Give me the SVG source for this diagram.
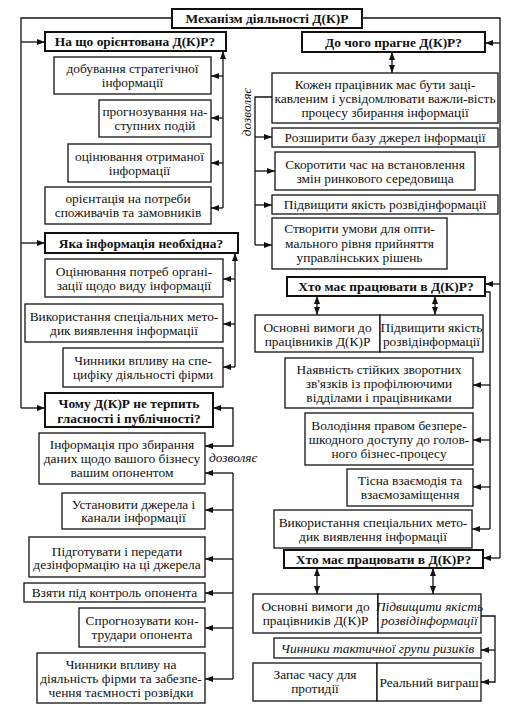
<svg xmlns="http://www.w3.org/2000/svg" width="517" height="712" viewBox="0 0 517 712">
<style>
.bx{fill:#fff;stroke:#111;stroke-width:1.3}
.hb{fill:#fff;stroke:#111;stroke-width:2}
.t{font-family:"Liberation Serif","Times New Roman",serif;font-size:13.4px;text-anchor:middle;fill:#111}
.b{font-weight:bold}
.i{font-style:italic}
.ln{fill:none;stroke:#111;stroke-width:1.3}
.ar{marker-end:url(#a)}
.da{marker-start:url(#a);marker-end:url(#a)}
</style>
<defs>
<marker id="a" viewBox="0 0 8 6" refX="8" refY="3" markerWidth="8" markerHeight="6" markerUnits="userSpaceOnUse" orient="auto-start-reverse"><path d="M0,0 L8,3 L0,6 z" fill="#111"/></marker>
</defs>
<rect width="517" height="712" fill="#fff"/>

<g id="connectors">
<path class="ln" d="M172,18 H21 V408"/>
<path class="ln ar" d="M21,42 H45"/>
<path class="ln ar" d="M21,243 H45"/>
<path class="ln ar" d="M21,408 H45"/>
<path class="ln" d="M362,18 H500 V558"/>
<path class="ln ar" d="M500,43 H485"/>
<path class="ln ar" d="M500,284 H485"/>
<path class="ln ar" d="M500,558 H483"/>
<path class="ln ar" d="M223,208 V51"/>
<path class="ln ar" d="M223,76 H211"/>
<path class="ln ar" d="M223,118 H211"/>
<path class="ln ar" d="M223,163 H211"/>
<path class="ln ar" d="M223,208 H211"/>
<path class="ln ar" d="M235,367 V253"/>
<path class="ln ar" d="M235,279 H223"/>
<path class="ln ar" d="M235,324 H223"/>
<path class="ln ar" d="M235,367 H223"/>
<path class="ln da" d="M213,408 H233 V446 H205"/>
<path class="ln" d="M233,473 V679"/>
<path class="ln ar" d="M233,473 H205"/>
<path class="ln ar" d="M233,510 H205"/>
<path class="ln ar" d="M233,559 H205"/>
<path class="ln ar" d="M233,593 H205"/>
<path class="ln ar" d="M233,628 H205"/>
<path class="ln ar" d="M233,679 H205"/>
<path class="ln da" d="M392,52 V73"/>
<path class="ln" d="M272,97 H255 V245"/>
<path class="ln ar" d="M255,137 H272"/>
<path class="ln ar" d="M255,171 H275"/>
<path class="ln ar" d="M255,205 H272"/>
<path class="ln ar" d="M255,245 H272"/>
<path class="ln" d="M485,292 H490 V529"/>
<path class="ln ar" d="M490,385 H473"/>
<path class="ln ar" d="M490,440 H473"/>
<path class="ln ar" d="M490,487 H473"/>
<path class="ln ar" d="M490,529 H472"/>
<path class="ln da" d="M317,296 V315"/>
<path class="ln da" d="M435,296 V315"/>
<path class="ln da" d="M317,568 V594"/>
<path class="ln da" d="M433,568 V594"/>
<path class="ln ar" d="M481,616 H495 V682 H481"/>
<path class="ln ar" d="M495,650 H481"/>
<text class="t i" x="209" y="462" style="text-anchor:start">дозволяє</text>
<text class="t i" transform="translate(251,112) rotate(-90)">дозволяє</text>
</g>

<g id="title"><rect class="hb" x="172" y="9" width="190" height="19"/><text class="t b" x="267" y="23">Механізм діяльності Д(К)Р</text></g>

<g id="q1"><rect class="hb" x="45" y="32" width="181" height="19"/><text class="t b" x="135" y="46">На що орієнтована Д(К)Р?</text></g>
<g id="q1a"><rect class="bx" x="54" y="57" width="157" height="37"/><text class="t" x="132.5"><tspan x="132.5" y="73">добування стратегічної</tspan><tspan x="132.5" y="87">інформації</tspan></text></g>
<g id="q1b"><rect class="bx" x="99" y="100" width="112" height="37"/><text class="t"><tspan x="155" y="116">прогнозування на-</tspan><tspan x="155" y="130">ступних подій</tspan></text></g>
<g id="q1c"><rect class="bx" x="68" y="144" width="143" height="38"/><text class="t"><tspan x="139.5" y="160.5">оцінювання отриманої</tspan><tspan x="139.5" y="174.5">інформації</tspan></text></g>
<g id="q1d"><rect class="bx" x="45" y="187" width="166" height="37"/><text class="t"><tspan x="128" y="203">орієнтація на потреби</tspan><tspan x="128" y="217">споживачів та замовників</tspan></text></g>

<g id="q2"><rect class="hb" x="45" y="233" width="193" height="20"/><text class="t b" x="141" y="247.5">Яка інформація необхідна?</text></g>
<g id="q2a"><rect class="bx" x="45" y="259" width="178" height="38"/><text class="t"><tspan x="134" y="275.5">Оцінювання потреб органі-</tspan><tspan x="134" y="289.5">зації щодо виду інформації</tspan></text></g>
<g id="q2b"><rect class="bx" x="25" y="304" width="198" height="38"/><text class="t"><tspan x="124" y="320.5">Використання спеціальних мето-</tspan><tspan x="124" y="334.5">дик виявлення інформації</tspan></text></g>
<g id="q2c"><rect class="bx" x="63" y="348" width="160" height="39"/><text class="t"><tspan x="143" y="365">Чинники впливу на спе-</tspan><tspan x="143" y="379">цифіку діяльності фірми</tspan></text></g>

<g id="q3"><rect class="hb" x="45" y="393" width="168" height="34"/><text class="t b"><tspan x="129" y="407.5">Чому  Д(К)Р не терпить</tspan><tspan x="129" y="423">гласності і публічності?</tspan></text></g>
<g id="q3a"><rect class="bx" x="39" y="433" width="166" height="51"/><text class="t"><tspan x="122" y="449">Інформація про збирання</tspan><tspan x="122" y="463">даних щодо вашого бізнесу</tspan><tspan x="122" y="477">вашим опонентом</tspan></text></g>
<g id="q3b"><rect class="bx" x="62" y="493" width="143" height="36"/><text class="t"><tspan x="133.5" y="508.5">Установити джерела і</tspan><tspan x="133.5" y="522">канали інформації</tspan></text></g>
<g id="q3c"><rect class="bx" x="29" y="537" width="176" height="40"/><text class="t"><tspan x="117" y="555.5">Підготувати і передати</tspan><tspan x="117" y="569">дезінформацію на ці джерела</tspan></text></g>
<g id="q3d"><rect class="bx" x="24" y="583" width="181" height="19"/><text class="t" x="114.5" y="597">Взяти під контроль опонента</text></g>
<g id="q3e"><rect class="bx" x="79" y="608" width="126" height="39"/><text class="t"><tspan x="142" y="625">Спрогнозувати кон-</tspan><tspan x="142" y="638.5">трудари опонента</tspan></text></g>
<g id="q3f"><rect class="bx" x="37" y="653" width="168" height="50"/><text class="t"><tspan x="121" y="668.5">Чинники впливу на</tspan><tspan x="121" y="682.5">діяльність фірми та забезпе-</tspan><tspan x="121" y="696.5">чення таємності розвідки</tspan></text></g>

<g id="r1"><rect class="hb" x="302" y="32" width="183" height="20"/><text class="t b" x="393.5" y="46.5">До чого прагне Д(К)Р?</text></g>
<g id="r1a"><rect class="bx" x="272" y="73" width="226" height="50"/><text class="t"><tspan x="385" y="88.5">Кожен працівник має бути заці-</tspan><tspan x="385" y="102.5" textLength="221" lengthAdjust="spacingAndGlyphs">кавленим і усвідомлювати важли-вість</tspan><tspan x="385" y="116.5">процесу збирання інформації</tspan></text></g>
<g id="r1b"><rect class="bx" x="272" y="128" width="226" height="19"/><text class="t" x="385" y="142">Розширити базу джерел інформації</text></g>
<g id="r1c"><rect class="bx" x="275" y="152" width="200" height="38"/><text class="t"><tspan x="375" y="168.5">Скоротити час на встановлення</tspan><tspan x="375" y="182.5">змін ринкового середовища</tspan></text></g>
<g id="r1d"><rect class="bx" x="272" y="195" width="226" height="19"/><text class="t" x="385" y="209">Підвищити якість розвідінформації</text></g>
<g id="r1e"><rect class="bx" x="272" y="218" width="175" height="51"/><text class="t"><tspan x="359.5" y="233">Створити умови для опти-</tspan><tspan x="359.5" y="247.5">мального рівня прийняття</tspan><tspan x="359.5" y="262">управлінських рішень</tspan></text></g>

<g id="r2"><rect class="hb" x="287" y="277" width="198" height="19"/><text class="t b" x="386" y="291">Хто має працювати в Д(К)Р?</text></g>
<g id="r2a"><rect class="bx" x="255" y="315" width="125" height="37"/><text class="t"><tspan x="317.5" y="331.5">Основні вимоги до</tspan><tspan x="317.5" y="345.5">працівників Д(К)Р</tspan></text></g>
<g id="r2b"><rect class="bx" x="380" y="315" width="103" height="37"/><text class="t"><tspan x="431.5" y="331.5">Підвищити якість</tspan><tspan x="431.5" y="345.5">розвідінформації</tspan></text></g>
<g id="r2c"><rect class="bx" x="285" y="358" width="188" height="50"/><text class="t"><tspan x="379" y="374">Наявність стійких зворотних</tspan><tspan x="379" y="388">зв'язків із профілюючими</tspan><tspan x="379" y="402">відділами і працівниками</tspan></text></g>
<g id="r2d"><rect class="bx" x="305" y="413" width="168" height="52"/><text class="t"><tspan x="389" y="429.5">Володіння правом безпере-</tspan><tspan x="389" y="443.5">шкодного доступу до  голов-</tspan><tspan x="389" y="457.5">ного бізнес-процесу</tspan></text></g>
<g id="r2e"><rect class="bx" x="347" y="469" width="126" height="37"/><text class="t"><tspan x="410" y="485">Тісна взаємодія та</tspan><tspan x="410" y="499">взаємозаміщення</tspan></text></g>
<g id="r2f"><rect class="bx" x="274" y="510" width="198" height="38"/><text class="t"><tspan x="373" y="526.5">Використання спеціальних мето-</tspan><tspan x="373" y="540.5">дик виявлення інформації</tspan></text></g>

<g id="r3"><rect class="hb" x="284" y="550" width="199" height="18"/><text class="t b" x="383.5" y="563.5">Хто має працювати в Д(К)Р?</text></g>
<g id="r3a"><rect class="bx" x="253" y="594" width="125" height="39"/><text class="t"><tspan x="315.5" y="611">Основні вимоги до</tspan><tspan x="315.5" y="625">працівників Д(К)Р</tspan></text></g>
<g id="r3b"><rect class="bx" x="378" y="594" width="103" height="39"/><text class="t i"><tspan x="429.5" y="611">Підвищити якість</tspan><tspan x="429.5" y="625">розвідінформації</tspan></text></g>
<g id="r3c"><rect class="bx" x="274" y="638" width="207" height="20"/><text class="t i" x="377.5" y="652.5">Чинники тактичної групи ризиків</text></g>
<g id="r3d"><rect class="bx" x="253" y="663" width="124" height="38"/><text class="t"><tspan x="315" y="679">Запас часу для</tspan><tspan x="315" y="693">протидії</tspan></text></g>
<g id="r3e"><rect class="bx" x="377" y="663" width="104" height="38"/><text class="t" x="429" y="686.5">Реальний виграш</text></g>
</svg>
